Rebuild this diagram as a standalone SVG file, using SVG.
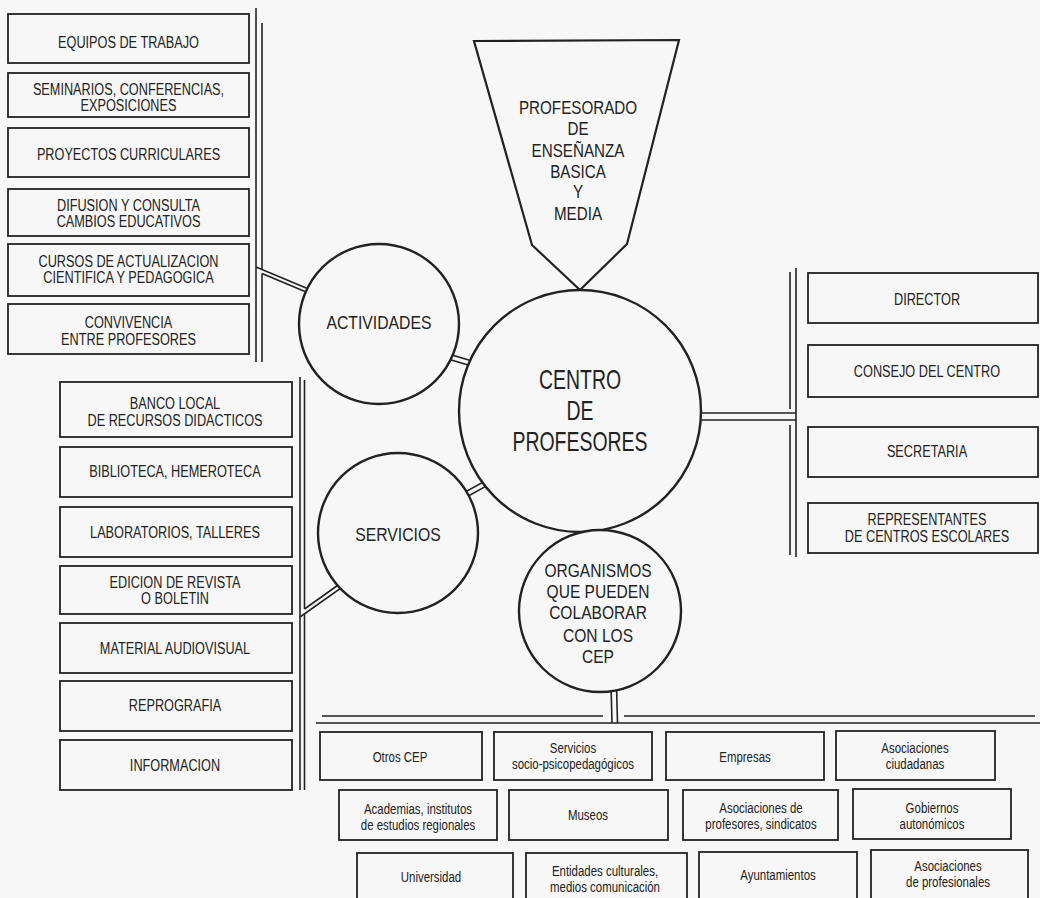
<svg xmlns="http://www.w3.org/2000/svg" width="1040" height="898" viewBox="0 0 1040 898">
<style>
  .bg { fill: #f7f7f7; }
  .box { fill: none; stroke: #222; stroke-width: 1.8; }
  .circ { fill: #f7f7f7; stroke: #222; stroke-width: 2.4; }
  .ln { stroke: #222; stroke-width: 1.6; fill: none; }
  text { font-family: "Liberation Sans", Arial, sans-serif; fill: #222; text-anchor: middle; }
  .t { font-size: 16.5px; }
  .s { font-size: 14.5px; }
  .m { font-size: 19px; }
  .b { font-size: 27px; }
</style>
<rect class="bg" x="0" y="0" width="1040" height="898"/>

<g id="connectors">
  <!-- top-left bus -->
  <line class="ln" x1="256" y1="8" x2="256" y2="362"/>
  <line class="ln" x1="262" y1="23" x2="262" y2="269"/>
  <line class="ln" x1="262" y1="273.5" x2="262" y2="362"/>
  <line class="ln" x1="256" y1="267" x2="330" y2="298"/>
  <line class="ln" x1="262" y1="273.5" x2="330" y2="302"/>
  <!-- left-middle bus -->
  <line class="ln" x1="300" y1="377" x2="300" y2="790"/>
  <line class="ln" x1="304.5" y1="380" x2="304.5" y2="609"/>
  <line class="ln" x1="304.5" y1="614.2" x2="304.5" y2="790"/>
  <line class="ln" x1="304.5" y1="609" x2="355" y2="573"/>
  <line class="ln" x1="300" y1="617" x2="355" y2="578.2"/>
  <!-- right bus -->
  <line class="ln" x1="790" y1="272" x2="790" y2="409"/>
  <line class="ln" x1="790" y1="425" x2="790" y2="555"/>
  <line class="ln" x1="796" y1="268" x2="796" y2="557"/>
  <line class="ln" x1="690" y1="413" x2="796" y2="413"/>
  <line class="ln" x1="690" y1="420" x2="796" y2="420"/>
  <!-- bottom bus -->
  <line class="ln" x1="322" y1="716" x2="603" y2="716"/>
  <line class="ln" x1="624" y1="716" x2="1035" y2="716"/>
  <line class="ln" x1="316" y1="723" x2="1040" y2="723"/>
  <line class="ln" x1="611" y1="685" x2="612" y2="723"/>
  <line class="ln" x1="616.5" y1="685" x2="617.5" y2="723"/>
  <!-- circle to circle -->
  <line class="ln" x1="435.3" y1="355.2" x2="483.3" y2="369.6"/>
  <line class="ln" x1="436.7" y1="350.4" x2="484.7" y2="364.8"/>
  <line class="ln" x1="453.3" y1="504.3" x2="497.1" y2="480.1"/>
  <line class="ln" x1="450.9" y1="499.9" x2="494.7" y2="475.7"/>
</g>

<g id="profesorado">
  <polygon class="box" points="474,41 679,40 627,244 580,290 532,245" style="stroke-width:2.2"/>
  <g transform="translate(578 0) scale(0.8 1)">
    <text class="m" x="0" y="113.8">PROFESORADO</text>
    <text class="m" x="0" y="134.8">DE</text>
    <text class="m" x="0" y="156.8">ENSEÑANZA</text>
    <text class="m" x="0" y="177.8">BASICA</text>
    <text class="m" x="0" y="197.8">Y</text>
    <text class="m" x="0" y="219.8">MEDIA</text>
  </g>
</g>

<g id="actividades">
  <circle class="circ" cx="379" cy="324" r="80"/>
  <g transform="translate(379 0) scale(0.83 1)"><text class="m" x="0" y="328.8">ACTIVIDADES</text></g>
</g>

<g id="servicios">
  <circle class="circ" cx="398" cy="533" r="80"/>
  <g transform="translate(398 0) scale(0.83 1)"><text class="m" x="0" y="540.8">SERVICIOS</text></g>
</g>

<g id="centro">
  <circle class="circ" cx="580" cy="411" r="121"/>
  <g transform="translate(580 0) scale(0.72 1)">
    <text class="b" x="0" y="388.7">CENTRO</text>
    <text class="b" x="0" y="419.7">DE</text>
    <text class="b" x="0" y="450.7">PROFESORES</text>
  </g>
</g>

<g id="organismos">
  <circle class="circ" cx="600" cy="611" r="81"/>
  <g transform="translate(598 0) scale(0.82 1)">
    <text class="m" x="0" y="576.8">ORGANISMOS</text>
    <text class="m" x="0" y="597.8">QUE PUEDEN</text>
    <text class="m" x="0" y="618.8">COLABORAR</text>
    <text class="m" x="0" y="641.8">CON LOS</text>
    <text class="m" x="0" y="662.8">CEP</text>
  </g>
</g>

<!-- actividades list -->
<g id="equipos"><rect class="box" x="8" y="14" width="241" height="49"/><g transform="translate(128.5 0) scale(0.77 1)"><text class="t" x="0" y="47.9">EQUIPOS DE TRABAJO</text></g></g>
<g id="seminarios"><rect class="box" x="8" y="73" width="241" height="44"/><g transform="translate(128.5 0) scale(0.77 1)"><text class="t" x="0" y="94.9">SEMINARIOS, CONFERENCIAS,</text><text class="t" x="0" y="110.9">EXPOSICIONES</text></g></g>
<g id="proyectos"><rect class="box" x="8" y="128" width="241" height="49"/><g transform="translate(128.5 0) scale(0.77 1)"><text class="t" x="0" y="159.9">PROYECTOS CURRICULARES</text></g></g>
<g id="difusion"><rect class="box" x="8" y="189" width="241" height="47"/><g transform="translate(128.5 0) scale(0.77 1)"><text class="t" x="0" y="211.4">DIFUSION Y CONSULTA</text><text class="t" x="0" y="227.4">CAMBIOS EDUCATIVOS</text></g></g>
<g id="cursos"><rect class="box" x="8" y="244" width="241" height="52"/><g transform="translate(128.5 0) scale(0.77 1)"><text class="t" x="0" y="266.9">CURSOS DE ACTUALIZACION</text><text class="t" x="0" y="282.9">CIENTIFICA Y PEDAGOGICA</text></g></g>
<g id="convivencia"><rect class="box" x="8" y="304" width="241" height="50"/><g transform="translate(128.5 0) scale(0.77 1)"><text class="t" x="0" y="327.9">CONVIVENCIA</text><text class="t" x="0" y="344.9">ENTRE PROFESORES</text></g></g>

<!-- servicios list -->
<g id="banco"><rect class="box" x="60" y="382" width="232" height="55"/><g transform="translate(175 0) scale(0.77 1)"><text class="t" x="0" y="408.9">BANCO LOCAL</text><text class="t" x="0" y="425.9">DE RECURSOS DIDACTICOS</text></g></g>
<g id="biblioteca"><rect class="box" x="60" y="447" width="232" height="50"/><g transform="translate(175 0) scale(0.77 1)"><text class="t" x="0" y="476.9">BIBLIOTECA, HEMEROTECA</text></g></g>
<g id="laboratorios"><rect class="box" x="60" y="507" width="232" height="50"/><g transform="translate(175 0) scale(0.77 1)"><text class="t" x="0" y="538.4">LABORATORIOS, TALLERES</text></g></g>
<g id="edicion"><rect class="box" x="60" y="566" width="232" height="48"/><g transform="translate(175 0) scale(0.77 1)"><text class="t" x="0" y="587.9">EDICION DE REVISTA</text><text class="t" x="0" y="603.9">O BOLETIN</text></g></g>
<g id="material"><rect class="box" x="60" y="623" width="232" height="50"/><g transform="translate(175 0) scale(0.77 1)"><text class="t" x="0" y="653.9">MATERIAL AUDIOVISUAL</text></g></g>
<g id="reprografia"><rect class="box" x="60" y="681" width="232" height="50"/><g transform="translate(175 0) scale(0.77 1)"><text class="t" x="0" y="710.9">REPROGRAFIA</text></g></g>
<g id="informacion"><rect class="box" x="60" y="740" width="232" height="50"/><g transform="translate(175 0) scale(0.77 1)"><text class="t" x="0" y="770.9">INFORMACION</text></g></g>

<!-- centro organs -->
<g id="director"><rect class="box" x="808" y="273" width="230" height="50"/><g transform="translate(927 0) scale(0.77 1)"><text class="t" x="0" y="304.9">DIRECTOR</text></g></g>
<g id="consejo"><rect class="box" x="808" y="345" width="230" height="52"/><g transform="translate(927 0) scale(0.77 1)"><text class="t" x="0" y="376.9">CONSEJO DEL CENTRO</text></g></g>
<g id="secretaria"><rect class="box" x="808" y="427" width="230" height="50"/><g transform="translate(927 0) scale(0.77 1)"><text class="t" x="0" y="456.9">SECRETARIA</text></g></g>
<g id="representantes"><rect class="box" x="808" y="503" width="230" height="50"/><g transform="translate(927 0) scale(0.77 1)"><text class="t" x="0" y="524.9">REPRESENTANTES</text><text class="t" x="0" y="541.9">DE CENTROS ESCOLARES</text></g></g>

<!-- organismos grid -->
<g id="otros-cep"><rect class="box" x="320" y="732" width="162" height="48"/><g transform="translate(400 0) scale(0.79 1)"><text class="s" x="0" y="762">Otros CEP</text></g></g>
<g id="servicios-socio"><rect class="box" x="494" y="732" width="158" height="48"/><g transform="translate(573 0) scale(0.79 1)"><text class="s" x="0" y="753">Servicios</text><text class="s" x="0" y="769">socio-psicopedagógicos</text></g></g>
<g id="empresas"><rect class="box" x="666" y="732" width="158" height="48"/><g transform="translate(745 0) scale(0.79 1)"><text class="s" x="0" y="762">Empresas</text></g></g>
<g id="asoc-ciudadanas"><rect class="box" x="836" y="731" width="159" height="49"/><g transform="translate(915 0) scale(0.79 1)"><text class="s" x="0" y="753.5">Asociaciones</text><text class="s" x="0" y="769.5">ciudadanas</text></g></g>

<g id="academias"><rect class="box" x="339" y="790" width="158" height="50"/><g transform="translate(418 0) scale(0.79 1)"><text class="s" x="0" y="814.5">Academias, institutos</text><text class="s" x="0" y="830.5">de estudios regionales</text></g></g>
<g id="museos"><rect class="box" x="509" y="790" width="159" height="50"/><g transform="translate(588 0) scale(0.79 1)"><text class="s" x="0" y="820.5">Museos</text></g></g>
<g id="asoc-profesores"><rect class="box" x="683" y="790" width="155" height="50"/><g transform="translate(761 0) scale(0.79 1)"><text class="s" x="0" y="813.5">Asociaciones de</text><text class="s" x="0" y="829.5">profesores, sindicatos</text></g></g>
<g id="gobiernos"><rect class="box" x="853" y="789" width="158" height="50"/><g transform="translate(932 0) scale(0.79 1)"><text class="s" x="0" y="813.5">Gobiernos</text><text class="s" x="0" y="829.5">autonómicos</text></g></g>

<g id="universidad"><rect class="box" x="357" y="853" width="156" height="50"/><g transform="translate(431 0) scale(0.79 1)"><text class="s" x="0" y="882">Universidad</text></g></g>
<g id="entidades"><rect class="box" x="526" y="853" width="161" height="50"/><g transform="translate(605 0) scale(0.79 1)"><text class="s" x="0" y="876.5">Entidades culturales,</text><text class="s" x="0" y="892">medios comunicación</text></g></g>
<g id="ayuntamientos"><rect class="box" x="699" y="852" width="158" height="50"/><g transform="translate(778 0) scale(0.79 1)"><text class="s" x="0" y="880">Ayuntamientos</text></g></g>
<g id="asoc-profesionales"><rect class="box" x="871" y="850" width="157" height="50"/><g transform="translate(948 0) scale(0.79 1)"><text class="s" x="0" y="871.5">Asociaciones</text><text class="s" x="0" y="887">de profesionales</text></g></g>
</svg>
